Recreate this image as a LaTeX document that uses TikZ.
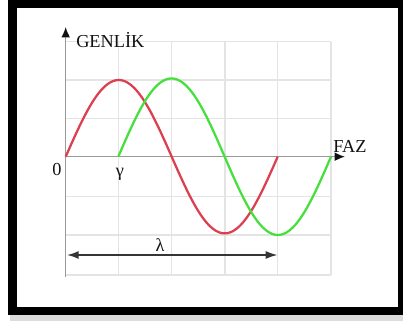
\documentclass[tikz,border=0pt]{standalone}
\usepackage{fontspec}
\setmainfont{Liberation Serif}
\usepackage{xcolor}
\usetikzlibrary{arrows.meta}
\definecolor{ink}{HTML}{111111}
\definecolor{wave}{HTML}{DB3F50}
\definecolor{shift}{HTML}{45E03C}
\definecolor{gridline}{HTML}{E4E4E4}
\definecolor{axisgray}{HTML}{9A9A9A}
\definecolor{shadow}{HTML}{B8B8B8}
\tikzset{
  gridl/.style={draw=gridline, line width=0.9pt},
  axis/.style={draw=axisgray, line width=1pt},
  axisarrow/.style={axis, -{Latex[length=2.6mm,width=2.2mm,color=ink]}},
  redwave/.style={draw=wave, line width=1.6pt, smooth},
  greenwave/.style={draw=shift, line width=1.6pt, smooth},
  span/.style={{Latex[length=3mm,width=2mm]}-{Latex[length=3mm,width=2mm]}, line width=1.4pt, draw=ink!85},
  lbl/.style={font=\fontsize{13}{15}\selectfont, text=ink, inner sep=0pt}
}
\begin{document}
\begin{tikzpicture}[x={(0.025cm,0)}, y={(0,-0.025cm)}]
\useasboundingbox (0,0) rectangle (403,321);
% frame
\fill[shadow!50] (10,313) rectangle (403,321);
\fill[black] (8,0) rectangle (403,315);
\fill[white] (17,8) rectangle (398,307);
% grid
\foreach \gx in {118.3,171.7,225,277.7,331} \draw[gridl] (\gx,41.7) -- (\gx,275);
\foreach \gy in {41.7,80,118.3,196.7,235,275} \draw[gridl] (65.7,\gy) -- (331,\gy);
% axes
\coordinate (o) at (65.7,156.7);
\coordinate (ybot) at (65.7,277);
\coordinate (ytop) at (65.7,27);
\coordinate (xend) at (345,156.7);
\draw[axisarrow] (ybot) -- (ytop);
\draw[axisarrow] (o) -- (xend);
% waves
\draw[redwave] plot[domain=0:360, samples=73] ({65.7+\x/360*212},{156.7-76.7*sin(\x)});
\draw[greenwave] plot[domain=0:360, samples=73] ({118.3+\x/360*212.7},{156.7-78.3*sin(\x)});
% labels
\node[lbl, anchor=base west] (genlik) at (76,48) {GENLİK};
\node[lbl, anchor=base west] (faz) at (333,153) {FAZ};
\node[lbl, anchor=base] (zero) at (57,176) {0};
\node[lbl, anchor=base] (gamma) at (120,177) {γ};
% wavelength
\coordinate (la) at (66.7,255);
\coordinate (lb) at (277.7,255);
\draw[span] (la) -- (lb);
\node[lbl, anchor=base] (lambda) at (160,252) {λ};
\end{tikzpicture}
\end{document}
